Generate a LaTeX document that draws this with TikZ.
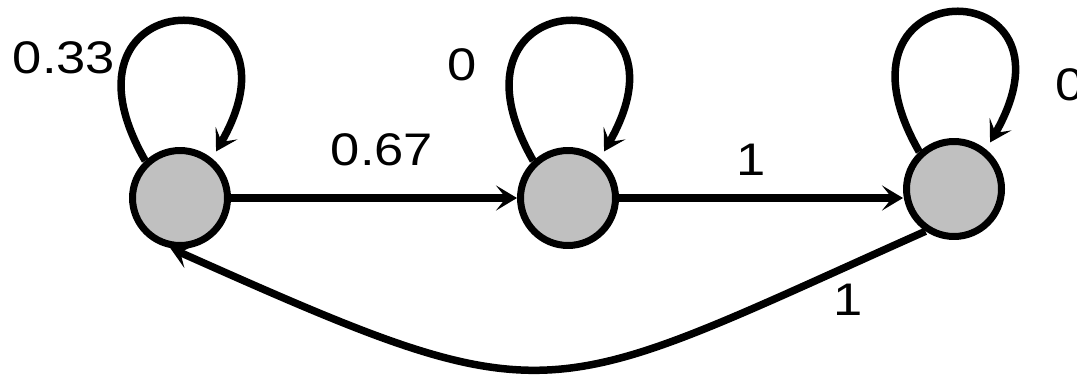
\documentclass[tikz,border=0pt]{standalone}
\usepackage{fontspec}
\setmainfont{Liberation Sans}[FakeStretch=1.15]
\usetikzlibrary{arrows.meta}
\definecolor{stategray}{RGB}{192,192,192}
\tikzset{
  state/.style={circle,draw,fill=stategray,line width=0.14cm,minimum size=1.9cm,inner sep=0pt},
  trans/.style={line width=0.15cm,-{Stealth[length=0.42cm,width=0.5cm,inset=0.2cm]}},
  prob/.style={inner sep=0pt,font=\fontsize{26}{30}\selectfont}
}
\begin{document}
\begin{tikzpicture}[x=0.02cm,y=-0.02cm]
\useasboundingbox (0,0) rectangle (1077,375);
% states
\node[state] (s1) at (180,198) {};
\node[state] (s2) at (568,198) {};
\node[state] (s3) at (954,189) {};
% self loops
\draw[trans,shorten >=0.16cm] (s1.133) .. controls +(-105,-183) and +(105,-183) .. (s1.51);
\draw[trans,shorten >=0.16cm] (s2.133) .. controls +(-105,-183) and +(105,-183) .. (s2.51);
\draw[trans,shorten >=0.16cm] (s3.133) .. controls +(-105,-183) and +(105,-183) .. (s3.51);
% forward edges
\draw[trans] (s1.east) -- (s2.west);
\draw[trans] (s2.east) -- (s2.east -| s3.west);
% back edge
\draw[trans] (s3.236) .. controls +(-388,173) and +(388,173) .. (s1.259);
% labels
\node[prob] (p11) at (64,58) {0.33};
\node[prob] (p22) at (462,65) {0};
\node[prob,anchor=west] (p33) at (1055,85) {0};
\node[prob] (p12) at (382,150) {0.67};
\node[prob] (p23) at (751,160) {1};
\node[prob] (p31) at (848,300) {1};
\end{tikzpicture}
\end{document}
